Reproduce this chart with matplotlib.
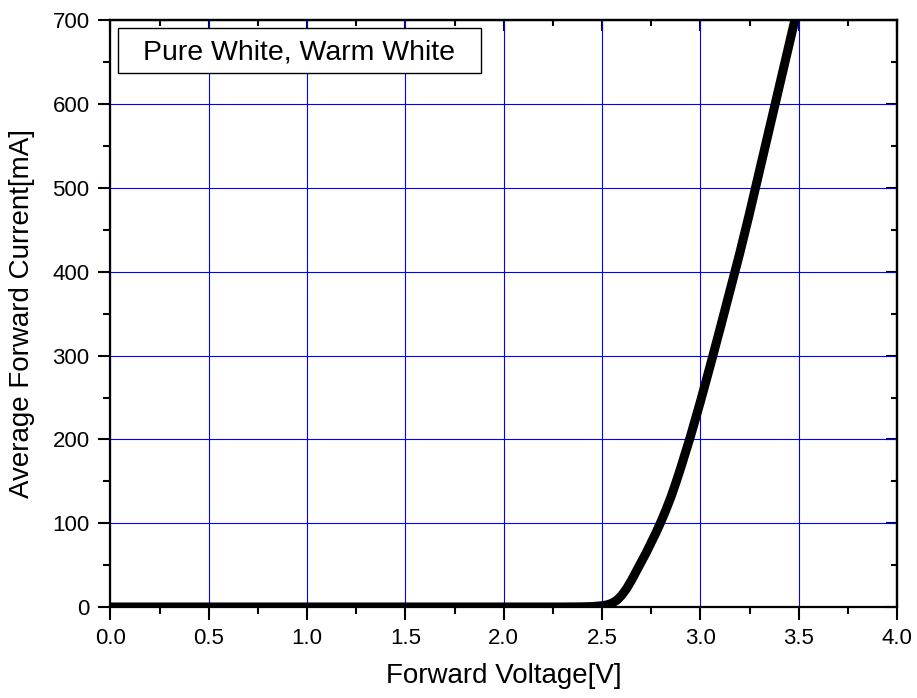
import numpy as np
import matplotlib
matplotlib.use("Agg")
import matplotlib.pyplot as plt
from matplotlib.patches import Rectangle
from matplotlib.ticker import MultipleLocator

# forward voltage [V] vs average forward current [mA]
voltage = [0.0, 0.5, 1.0, 1.5, 2.0, 2.3, 2.4, 2.45, 2.475, 2.5, 2.525, 2.55,
           2.575, 2.6, 2.625, 2.65, 2.675, 2.7, 2.725, 2.75, 2.775, 2.8,
           2.825, 2.85, 2.875, 2.9, 2.95, 3.0, 3.05, 3.1, 3.15, 3.2, 3.25,
           3.3, 3.35, 3.4, 3.45, 3.5]
current = [0, 0, 0, 0, 0, 0, 0.2, 0.5, 1, 1.5, 2.5, 4.5,
           8, 14, 22, 32, 43, 54, 65, 77, 89, 102,
           116, 131, 148, 166, 204, 245, 288, 332, 377, 422, 470,
           520, 570, 620, 670, 720]

box_label = "Pure White, Warm White"
x_label = "Forward Voltage[V]"
y_label = "Average Forward Current[mA]"

plt.rcParams['font.family'] = ['Liberation Sans', 'DejaVu Sans']

fig = plt.figure(figsize=(9.17, 6.98), dpi=100)
ax = fig.add_axes([0.1205, 0.1304, 0.8577, 0.8403])

ax.plot(voltage, current, color='black', lw=6.5, solid_capstyle='butt',
        solid_joinstyle='round', zorder=3)

ax.set_xlim(0, 4)
ax.set_ylim(0, 700)
ax.xaxis.set_major_locator(MultipleLocator(0.5))
ax.xaxis.set_minor_locator(MultipleLocator(0.25))
ax.yaxis.set_major_locator(MultipleLocator(100))
ax.yaxis.set_minor_locator(MultipleLocator(50))
ax.xaxis.set_major_formatter(lambda v, p: f"{v:.1f}")
ax.yaxis.set_major_formatter(lambda v, p: f"{v:.0f}")

ax.grid(True, which='major', color='#0000ff', lw=0.8, zorder=1)
ax.set_axisbelow(True)

ax.tick_params(which='both', direction='out', width=1.5, labelsize=16,
               top=False, right=False, pad=6)
ax.tick_params(which='major', length=9)
ax.tick_params(which='minor', length=5)
for s in ax.spines.values():
    s.set_linewidth(1.6)

# mirrored ticks pointing inward on top and right
top = ax.secondary_xaxis('top')
top.set_xticks(np.arange(0, 4.01, 0.5))
top.set_xticks(np.arange(0, 4.01, 0.25), minor=True)
top.tick_params(which='both', direction='in', width=1.5, labeltop=False)
top.tick_params(which='major', length=8)
top.tick_params(which='minor', length=4.5)
top.spines['top'].set_linewidth(1.6)

right = ax.secondary_yaxis('right')
right.set_yticks(np.arange(0, 701, 100))
right.set_yticks(np.arange(0, 701, 50), minor=True)
right.tick_params(which='both', direction='in', width=1.5, labelright=False)
right.tick_params(which='major', length=8)
right.tick_params(which='minor', length=4.5)
right.spines['right'].set_linewidth(1.6)

ax.set_xlabel(x_label, fontsize=20)
ax.set_ylabel(y_label, fontsize=20)
ax.xaxis.set_label_coords(0.5, -0.095)
ax.yaxis.set_label_coords(-0.096, 0.5)

# label box in the upper left corner
ax.add_patch(Rectangle((0.0095, 0.9105), 0.4615, 0.0767, transform=ax.transAxes,
                       facecolor='white', edgecolor='black', lw=1, zorder=4))
ax.text(0.240, 0.9327, box_label, transform=ax.transAxes, fontsize=20.5,
        ha='center', va='baseline', zorder=5)

fig.savefig("out.png", dpi=100)
